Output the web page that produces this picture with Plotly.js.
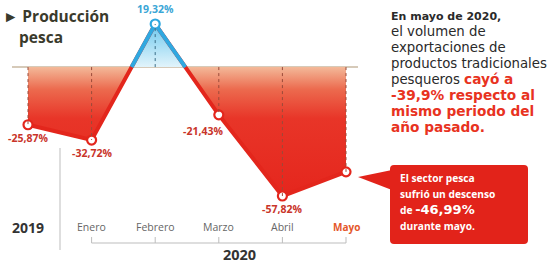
<!DOCTYPE html>
<html>
<head>
<meta charset="utf-8">
<script src="https://cdn.plot.ly/plotly-3.0.1.min.js"></script>
<style>html,body{margin:0;padding:0;background:#fff;}#chart{width:551px;height:263px;}</style>
</head>
<body>
<div id="chart"></div>
<script>
// ---- data ----
const categories = ['2019', 'Enero', 'Febrero', 'Marzo', 'Abril', 'Mayo'];
const values = [-25.87, -32.72, 19.32, -21.43, -57.82, -46.99];
const showLabel = [true, true, true, true, true, false];
const groupLabel = '2020';
const titleLines = ['► Producción', 'pesca'];

// ---- styles ----
const W = 551, H = 263;
const px = x => x / W;
const py = y => 1 - y / H;
const RED = '#e3261c', BLUE = '#2fa8e0', LABRED = '#c9342a', FONT = 'Open Sans, sans-serif';
const PFONT = 'DejaVu Sans, sans-serif';
const labelOffsets = [[0, 13], [0, 13], [0, -15], [-16, 16], [0, 13], [0, 13]];

const xs = categories.map((_, i) => i);
const vmin = Math.min(...values), vmax = Math.max(...values);
const f0 = (0 - vmin) / (vmax - vmin);

// positive segments of the line (split at the zero crossings)
const posX = [], posY = [];
for (let i = 0; i < values.length; i++) {
  if (values[i] >= 0) { posX.push(xs[i]); posY.push(values[i]); }
  if (i < values.length - 1 && (values[i] >= 0) !== (values[i + 1] >= 0)) {
    const xc = xs[i] + values[i] / (values[i] - values[i + 1]);
    posX.push(xc); posY.push(0);
    if (values[i] >= 0) { posX.push(null); posY.push(null); }
  }
}

const traces = [
  {
    x: xs, y: values, type: 'scatter', mode: 'lines', fill: 'tozeroy',
    line: {width: 0, color: RED},
    fillgradient: {
      type: 'vertical', start: vmin, stop: vmax,
      colorscale: [[0, '#e5261d'], [0.45, '#e83528'], [0.62, '#ec6a4e'], [f0 - 0.001, '#f3b898'], [f0, '#e2f4fb'], [1, '#6cc8ee']]
    },
    hoverinfo: 'skip'
  },
  {x: xs, y: values, type: 'scatter', mode: 'lines', line: {width: 4, color: RED}, hoverinfo: 'skip'},
  {x: posX, y: posY, type: 'scatter', mode: 'lines', line: {width: 4, color: BLUE}, connectgaps: false, hoverinfo: 'skip'},
  {
    x: xs, y: values, type: 'scatter', mode: 'markers',
    marker: {size: 9, color: '#ffffff', line: {width: 2.2, color: values.map(v => v >= 0 ? BLUE : RED)}},
    hoverinfo: 'skip'
  }
];

const shapes = [];
// zero line
shapes.push({type: 'line', xref: 'paper', yref: 'y', x0: px(12), x1: px(358), y0: 0, y1: 0, line: {color: '#c9b9a2', width: 1.5}, layer: 'below'});
// dotted drop lines
values.forEach((v, i) => {
  shapes.push({type: 'line', xref: 'x', yref: 'y', x0: xs[i], x1: xs[i], y0: 0, y1: v,
    line: {color: v >= 0 ? '#3a6e88' : '#9a4a3a', width: 1, dash: 'dot'}, layer: 'above'});
});
// separator between 2019 and 2020
shapes.push({type: 'line', xref: 'paper', yref: 'paper', x0: px(60), x1: px(60), y0: py(148), y1: py(250), line: {color: '#bdbdbd', width: 1}});
// bracket under months
shapes.push({type: 'line', xref: 'x', yref: 'paper', x0: xs[1], x1: xs[xs.length - 1], y0: py(243), y1: py(243), line: {color: '#bdbdbd', width: 1}});
xs.slice(1).forEach(x => {
  shapes.push({type: 'line', xref: 'x', yref: 'paper', x0: x, x1: x, y0: py(243), y1: py(237), line: {color: '#bdbdbd', width: 1}});
});
// red callout box with rounded corners
(function () {
  const x0 = 390, x1 = 528, y0 = 165, y1 = 244, r = 4;
  const P = (x, y) => px(x) + ',' + py(y);
  const path = 'M ' + P(x0 + r, y0) + ' L ' + P(x1 - r, y0) + ' Q ' + P(x1, y0) + ' ' + P(x1, y0 + r) +
    ' L ' + P(x1, y1 - r) + ' Q ' + P(x1, y1) + ' ' + P(x1 - r, y1) +
    ' L ' + P(x0 + r, y1) + ' Q ' + P(x0, y1) + ' ' + P(x0, y1 - r) +
    ' L ' + P(x0, y0 + r) + ' Q ' + P(x0, y0) + ' ' + P(x0 + r, y0) + ' Z';
  shapes.push({type: 'path', xref: 'paper', yref: 'paper', path: path, fillcolor: '#e2231a', line: {width: 0}});
  const tri = 'M ' + P(358, 177) + ' L ' + P(392, 170) + ' L ' + P(392, 190) + ' Z';
  shapes.push({type: 'path', xref: 'paper', yref: 'paper', path: tri, fillcolor: '#e2231a', line: {width: 0}});
})();

const annotations = [];
const txt = (x, y, text, size, color, anchor, yanchor, family) => ({
  x: x, y: y, xref: 'paper', yref: 'paper', xanchor: anchor || 'left', yanchor: yanchor || 'middle', showarrow: false,
  align: 'left', text: text, font: {family: family || FONT, size: size, color: color}
});
// value labels
values.forEach((v, i) => {
  if (!showLabel[i]) return;
  annotations.push({
    x: xs[i], y: v, xref: 'x', yref: 'y', showarrow: true, arrowcolor: 'rgba(0,0,0,0)',
    ax: labelOffsets[i][0], ay: labelOffsets[i][1],
    text: '<b>' + v.toFixed(2).replace('.', ',') + '%</b>',
    font: {family: FONT, size: 10.5, color: v >= 0 ? '#3aa6d6' : LABRED}
  });
});
// category labels
categories.forEach((c, i) => {
  const first = i === 0, last = i === categories.length - 1;
  annotations.push({
    x: xs[i], y: py(227), xref: 'x', yref: 'paper', yanchor: 'middle', showarrow: false,
    text: first || last ? '<b>' + c + '</b>' : c,
    font: {family: FONT, size: first ? 14 : (last ? 10 : 10.5), color: first ? '#333333' : (last ? '#e4572b' : '#666666')}
  });
});
annotations.push({x: xs[3] + 0.33, y: py(254), xref: 'x', yref: 'paper', yanchor: 'middle', showarrow: false,
  text: '<b>' + groupLabel + '</b>', font: {family: FONT, size: 14.5, color: '#333333'}});
// title
annotations.push(txt(px(1), py(16), '<b>' + titleLines[0] + '</b>', 15.5, '#3a3a2c'));
annotations.push(txt(px(17), py(37), '<b>' + titleLines[1] + '</b>', 15.5, '#3a3a2c'));
// right paragraph (one text block, line spacing 16px)
const R = '#e8331f';
const s = (t, size, color, bold) => '<span style="font-size:' + size + 'px' + (color ? ';color:' + color : '') + '">' + (bold ? '<b>' + t + '</b>' : t) + '</span>';
const paraLines = [
  s('En mayo de 2020,', 11, null, true),
  s('el volumen de', 13.3),
  s('exportaciones de', 13.3),
  s('productos tradicionales', 13.3),
  s('pesqueros ', 13.3) + s('cayó a', 13.7, R, true),
  s('-39,9% respecto al', 13.7, R, true),
  s('mismo periodo del', 13.7, R, true),
  s('año pasado.', 13.7, R, true)
];
annotations.push(txt(px(389), py(8), paraLines.join('<br>'), 12.3, '#2a2a2a', 'left', 'top', PFONT));
// callout text
const boxLines = [
  s('El sector pesca', 10.2, null, true),
  s('sufrió un descenso', 10.2, null, true),
  s('de ', 10.2, null, true) + '<span style="font-size:13px;font-family:DejaVu Sans"><b>-46,99%</b></span>',
  s('durante mayo.', 10.2, null, true)
];
annotations.push(txt(px(398), py(202), boxLines.join('<br>'), 12.3, '#ffffff', 'left', 'middle'));

// scale: highest point near y=24px, lowest near y=196px
const yk = 172 / (vmax - vmin);
const y1 = vmax + 24 / yk, y0 = y1 - H / yk;
const x0 = -28 / 63.6, x1 = x0 + W / 63.6;

const layout = {
  width: W, height: H, margin: {l: 0, r: 0, t: 0, b: 0},
  paper_bgcolor: '#ffffff', plot_bgcolor: '#ffffff', showlegend: false,
  xaxis: {range: [x0, x1], visible: false, fixedrange: true},
  yaxis: {range: [y0, y1], visible: false, fixedrange: true},
  shapes: shapes, annotations: annotations
};
Plotly.newPlot('chart', traces, layout, {displayModeBar: false, staticPlot: true});
</script>
</body>
</html>
